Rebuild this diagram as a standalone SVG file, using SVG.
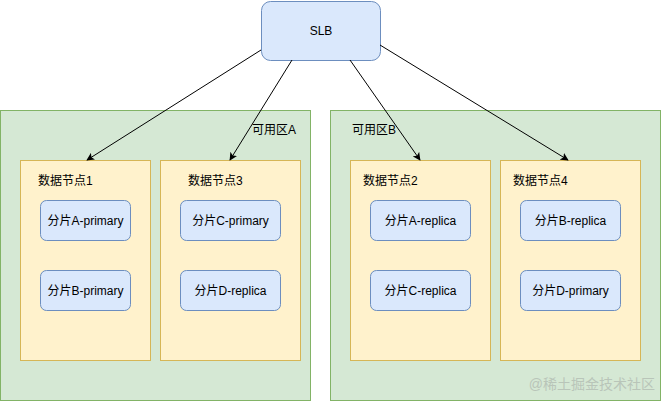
<svg xmlns="http://www.w3.org/2000/svg" width="661" height="401" viewBox="0 0 661 401">
<style>
text{font-family:"Liberation Sans","Noto Sans CJK SC",sans-serif;font-size:12px;fill:#000}
.zone{fill:#d5e8d4;stroke:#82b366;stroke-width:1}
.node{fill:#fff2cc;stroke:#d6b656;stroke-width:1}
.shard{fill:#dae8fc;stroke:#6c8ebf;stroke-width:1}
.c{text-anchor:middle;dominant-baseline:central}
.edge{stroke:#000;stroke-width:1;fill:none;marker-end:url(#arr)}
</style>
<defs>
<marker id="arr" viewBox="0 0 10 10" refX="9" refY="5" markerWidth="8" markerHeight="8" orient="auto" markerUnits="userSpaceOnUse">
<path d="M0,0 L10,5 L0,10 L2.5,5 Z" fill="#000"/>
</marker>
</defs>
<rect width="661" height="401" fill="#fff"/>
<g id="zoneA">
<rect class="zone" x="0.5" y="110.5" width="310" height="290"/>
<text x="252" y="130" dominant-baseline="central">可用区A</text>
</g>
<g id="zoneB">
<rect class="zone" x="330.5" y="110.5" width="330" height="290"/>
<text x="352" y="130" dominant-baseline="central">可用区B</text>
</g>
<g id="node1">
<rect class="node" x="20.5" y="160.5" width="130" height="200"/>
<text x="38" y="181" dominant-baseline="central">数据节点1</text>
</g>
<g id="node3">
<rect class="node" x="160.5" y="160.5" width="140" height="200"/>
<text x="188" y="181" dominant-baseline="central">数据节点3</text>
</g>
<g id="node2">
<rect class="node" x="350.5" y="160.5" width="140" height="200"/>
<text x="363" y="181" dominant-baseline="central">数据节点2</text>
</g>
<g id="node4">
<rect class="node" x="500.5" y="160.5" width="140" height="200"/>
<text x="513" y="181" dominant-baseline="central">数据节点4</text>
</g>
<g id="shard-a-primary">
<rect class="shard" x="40.5" y="200.5" width="90" height="40" rx="6"/>
<text class="c" x="85.5" y="220.5">分片A-primary</text>
</g>
<g id="shard-b-primary">
<rect class="shard" x="40.5" y="270.5" width="90" height="40" rx="6"/>
<text class="c" x="85.5" y="290.5">分片B-primary</text>
</g>
<g id="shard-c-primary">
<rect class="shard" x="180.5" y="200.5" width="100" height="40" rx="6"/>
<text class="c" x="230.5" y="220.5">分片C-primary</text>
</g>
<g id="shard-d-replica">
<rect class="shard" x="180.5" y="270.5" width="100" height="40" rx="6"/>
<text class="c" x="230.5" y="290.5">分片D-replica</text>
</g>
<g id="shard-a-replica">
<rect class="shard" x="370.5" y="200.5" width="100" height="40" rx="6"/>
<text class="c" x="420.5" y="220.5">分片A-replica</text>
</g>
<g id="shard-c-replica">
<rect class="shard" x="370.5" y="270.5" width="100" height="40" rx="6"/>
<text class="c" x="420.5" y="290.5">分片C-replica</text>
</g>
<g id="shard-b-replica">
<rect class="shard" x="520.5" y="200.5" width="100" height="40" rx="6"/>
<text class="c" x="570.5" y="220.5">分片B-replica</text>
</g>
<g id="shard-d-primary">
<rect class="shard" x="520.5" y="270.5" width="100" height="40" rx="6"/>
<text class="c" x="570.5" y="290.5">分片D-primary</text>
</g>
<g id="slb">
<rect class="shard" x="261.5" y="1.5" width="119" height="59" rx="9"/>
<text class="c" x="321" y="31">SLB</text>
</g>
<g id="connectors">
<path class="edge" d="M261,50 L87,160"/>
<path class="edge" d="M292,60 L230,160"/>
<path class="edge" d="M350,60 L420,160"/>
<path class="edge" d="M380,45 L568,160"/>
</g>
<text x="655" y="389" text-anchor="end" style="font-size:14px;fill:#b9c5b9">@稀土掘金技术社区</text>
</svg>
